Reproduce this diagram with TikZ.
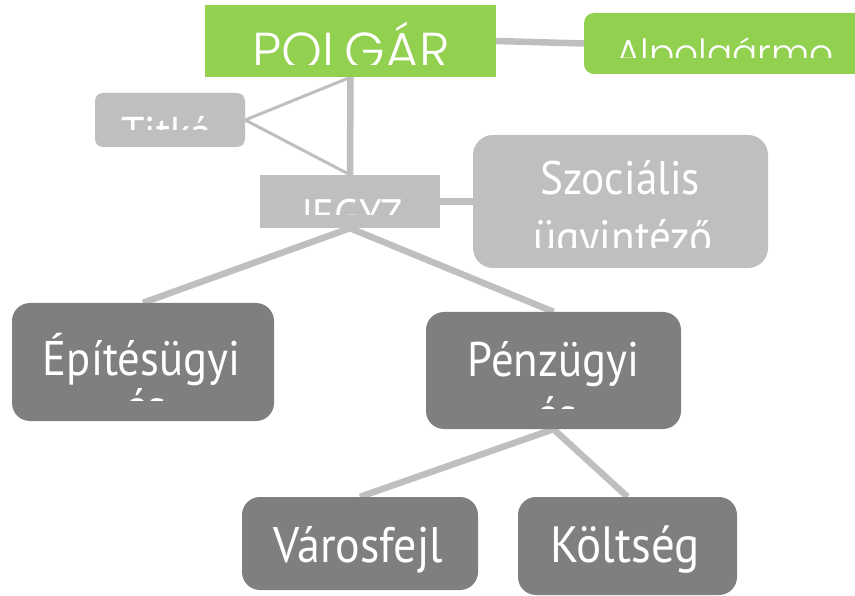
\documentclass[tikz,border=0pt]{standalone}
\usepackage{fontspec}
\setmainfont{PT Sans}[FakeStretch=0.92]
\newfontfamily\geo{Poppins Light}
\usetikzlibrary{backgrounds}
\definecolor{greenfill}{HTML}{92D050}
\definecolor{lgray}{HTML}{BFBFBF}
\definecolor{dgray}{HTML}{7F7F7F}
\begin{document}
\begin{tikzpicture}[x=1pt,y=-1pt,
  sq/.style={inner sep=0pt, draw=none},
  greensq/.style={sq, fill=greenfill},
  greenrd/.style={sq, fill=greenfill, rounded corners=10pt},
  lightsq/.style={sq, fill=lgray},
  lightrd/.style={sq, fill=lgray, rounded corners=#1},
  darkrd/.style={sq, fill=dgray, rounded corners=18pt},
  txt/.style={text=white, inner sep=0pt, anchor=base},
  thick conn/.style={draw=lgray, line width=6.5pt},
  thin conn/.style={draw=lgray, line width=3pt, line join=miter}]
\useasboundingbox (0,0) rectangle (855,596);
% boxes
\node[greensq, minimum width=291pt, minimum height=72pt] (polgar) at (350.5,41) {};
\node[greenrd, minimum width=296pt, minimum height=61pt] (alpol) at (732,43.5) {};
\node[lightrd=8pt, minimum width=150pt, minimum height=54pt] (titka) at (170,120) {};
\node[lightsq, minimum width=180pt, minimum height=53pt] (jegyz) at (350,201.5) {};
\node[lightrd=20pt, minimum width=295pt, minimum height=133pt] (szoc) at (620.5,201.5) {};
\node[darkrd, minimum width=262pt, minimum height=118pt] (epit) at (143,362) {};
\node[darkrd, minimum width=255pt, minimum height=117pt] (penz) at (553.5,370.5) {};
\node[darkrd, minimum width=236pt, minimum height=93pt] (varos) at (360,543.5) {};
\node[darkrd, minimum width=219pt, minimum height=98pt] (kolt) at (627.5,546) {};
% connectors
\begin{scope}[on background layer]
\draw[thick conn] (polgar.east) -- (alpol.west);
\draw[thick conn] (polgar.south) -- (jegyz.north);
\draw[thin conn] (polgar.south) -- (titka.east) -- (jegyz.north);
\draw[thick conn] (jegyz.east) -- (szoc.west);
\draw[thick conn] (jegyz.south) -- (epit.north);
\draw[thick conn] (jegyz.south) -- (penz.north);
\draw[thick conn] (penz.south) -- (varos.north);
\draw[thick conn] (penz.south) -- (kolt.north);
\end{scope}
% texts (clipped as in the picture)
\begin{scope}
\clip (205,5) rectangle (496,65);
\node[txt] (tpolgar) at (351,70) {\geo\fontsize{52}{60}\selectfont POLGÁR};
\end{scope}
\begin{scope}
\clip (584,13) rectangle (855,58);
\node[txt, anchor=base west] (talpol) at (616,67) {\geo\fontsize{37.5}{46}\selectfont Alpolgármo};
\end{scope}
\begin{scope}
\clip (95,93) rectangle (245,130);
\node[txt] (ttitka) at (166.5,150) {\fontsize{46}{54}\selectfont Titká};
\end{scope}
\begin{scope}
\clip (260,175) rectangle (440,215);
\node[txt] (tjegyz) at (352,231) {\fontsize{44}{52}\selectfont JEGYZ};
\end{scope}
\begin{scope}
\clip (473,135) rectangle (768,248);
\node[txt] (tszoc1) at (620,195) {\fontsize{47}{55}\selectfont Szociális};
\node[txt] (tszoc2) at (623,254) {\fontsize{47}{55}\selectfont ügyintéző};
\end{scope}
\begin{scope}
\clip (12,303) rectangle (274,400);
\node[txt] (tepit1) at (141.5,375) {\fontsize{48.6}{56}\selectfont Építésügyi};
\node[txt] (tepit2) at (146,423) {\fontsize{48.6}{56}\selectfont és};
\end{scope}
\begin{scope}
\clip (426,312) rectangle (681,408);
\node[txt] (tpenz1) at (553.5,377) {\fontsize{48.6}{56}\selectfont Pénzügyi};
\node[txt] (tpenz2) at (557,431) {\fontsize{48.6}{56}\selectfont és};
\end{scope}
\node[txt] (tvaros) at (358,562) {\fontsize{50}{58}\selectfont Városfejl};
\node[txt] (tkolt) at (625,562) {\fontsize{51}{59}\selectfont Költség};
\end{tikzpicture}
\end{document}
